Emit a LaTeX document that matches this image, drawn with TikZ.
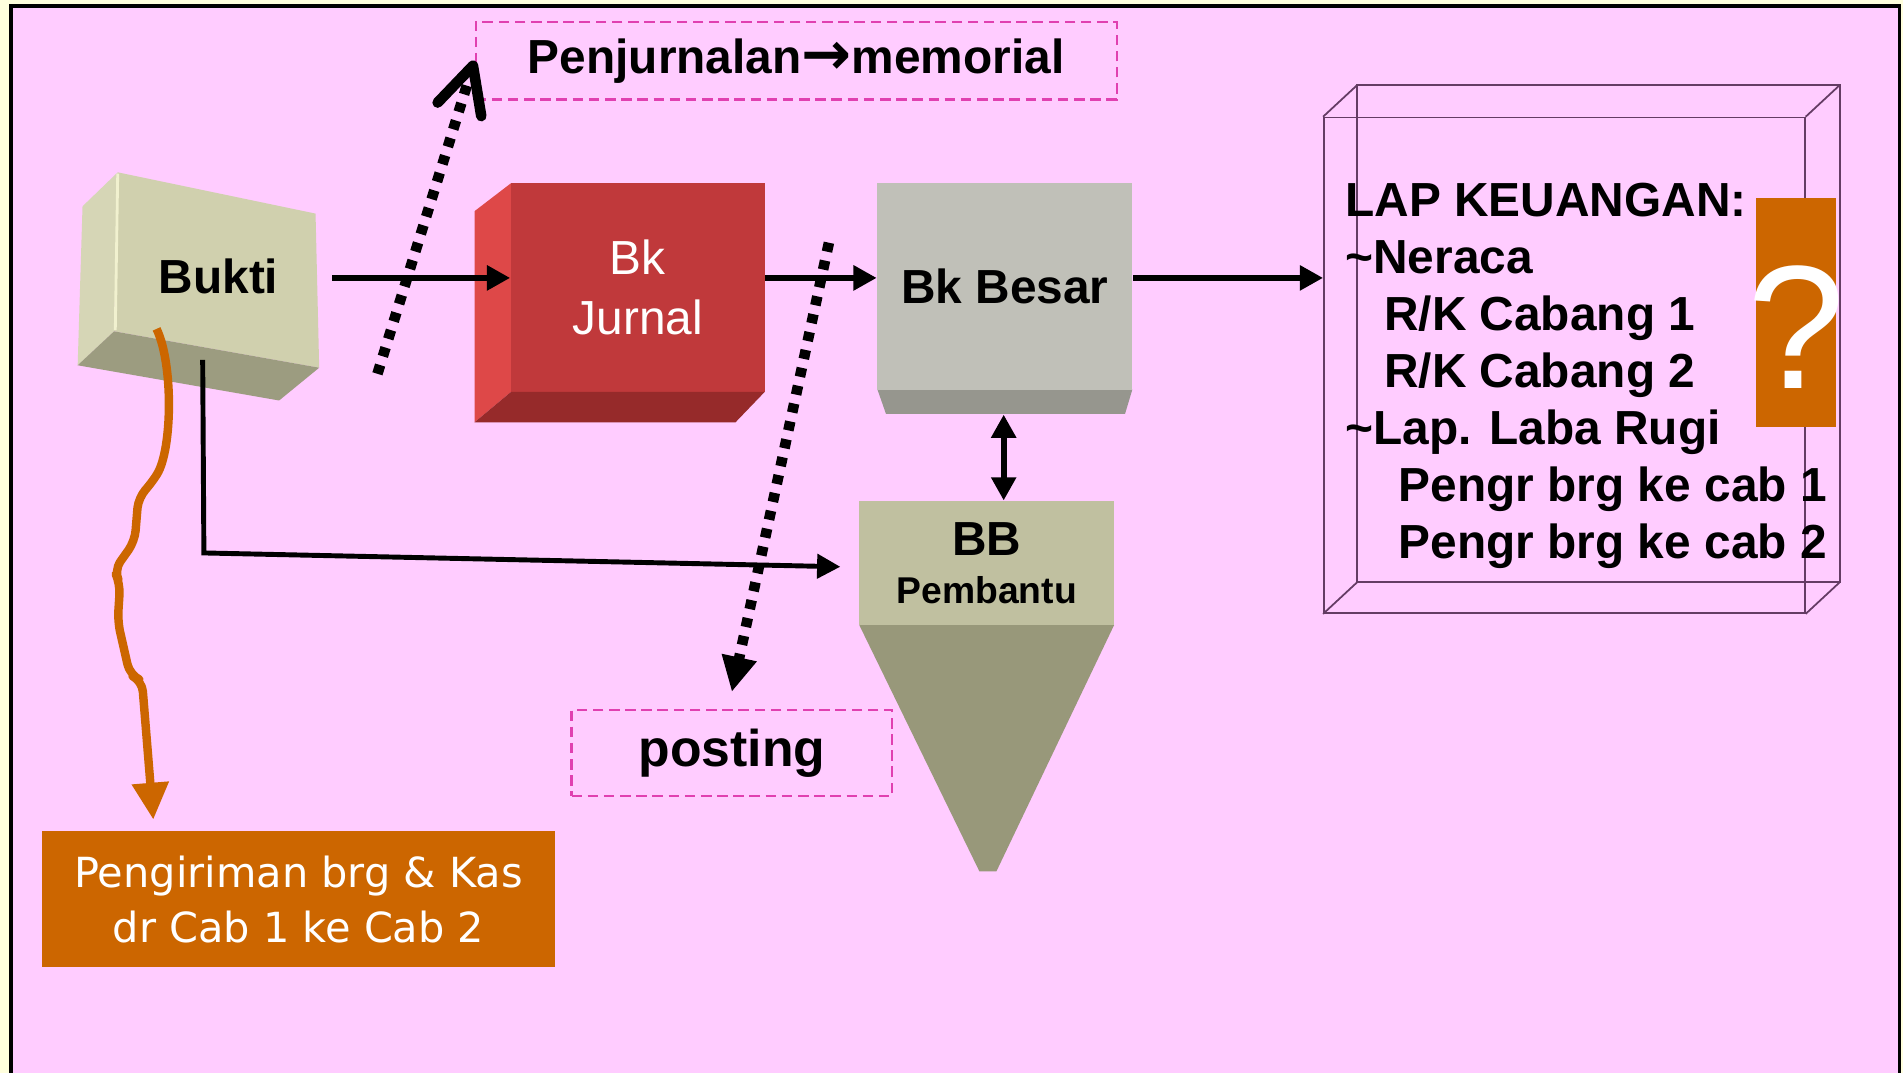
\documentclass[tikz,border=0pt]{standalone}
\usepackage{fontspec}
\setmainfont{Liberation Sans}
\newfontfamily\tipis{DejaVu Sans}
\usepackage{tikz}
\usetikzlibrary{positioning,arrows.meta,calc}
\definecolor{kuningmuda}{RGB}{255,255,221}
\definecolor{merahmuda}{RGB}{255,204,255}
\definecolor{oranye}{RGB}{204,102,0}
\definecolor{garisputus}{RGB}{224,64,176}
\definecolor{krem}{RGB}{208,208,174}
\definecolor{kremterang}{RGB}{214,214,182}
\definecolor{kremtua}{RGB}{156,156,128}
\definecolor{merahdepan}{RGB}{192,57,59}
\definecolor{merahsisi}{RGB}{222,72,72}
\definecolor{merahbawah}{RGB}{150,42,42}
\definecolor{abu}{RGB}{192,192,184}
\definecolor{abutua}{RGB}{150,150,142}
\definecolor{zaitun}{RGB}{192,192,160}
\definecolor{zaituntua}{RGB}{152,152,122}
\definecolor{ungu}{RGB}{100,60,100}
\newcommand{\ukuran}[2]{\fontsize{#1}{#2}\selectfont}
\newcommand{\panah}{{\tipis\bfseries\ukuran{17}{17}\raisebox{-0.5pt}{→}}}
\newdimen\satuan
\satuan=0.3453pt

\begin{document}
\begin{tikzpicture}[x=0.012136cm, y=-0.012136cm,
  judul/.style={font=\bfseries\ukuran{13.6}{16.2}},
  kotakputus/.style={draw=garisputus, line width=0.6pt, dash pattern=on 3pt off 1.6pt, inner sep=0pt},
  alir/.style={line width=1.8pt, -{Triangle[length=6.6pt,width=6.8pt]}},
  dua/.style={line width=1.8pt, {Triangle[length=6.6pt,width=6.8pt]}-{Triangle[length=6.6pt,width=6.8pt]}},
  hubung/.style={line width=1.4pt, -{Triangle[length=6.6pt,width=6.8pt]}},
  titik/.style={line width=3pt, dash pattern=on 2.6pt off 2.6pt},
  kubus/.style={ungu, line width=0.5pt}]
  \useasboundingbox (0,0) rectangle (1568,884);
  \fill[kuningmuda] (0,0) rectangle (1568,884);
  \draw[line width=1pt, fill=merahmuda] (9,5) rectangle (1565,910);

  \node[kotakputus, judul, minimum width=528*\satuan, minimum height=64*\satuan] (memo) at (656,50) {Penjurnalan\panah memorial};

  \fill[kremterang] (68,170) -- (97,142) -- (94,273) -- (64,301) -- cycle;
  \fill[krem] (97,142) -- (260,176) -- (263,303) -- (94,273) -- cycle;
  \fill[kremtua] (64,301) -- (94,273) -- (263,303) -- (230,330) -- cycle;
  \draw[kuningmuda!70!krem, line width=0.8pt] (97,143) -- (95,272);
  \node[judul, minimum width=186*\satuan, minimum height=136*\satuan] (bukti) at (180,228) {Bukti};

  \fill[merahsisi] (391,174) -- (421,151) -- (421,323) -- (391,348) -- cycle;
  \fill[merahdepan] (421,151) rectangle (630,323);
  \fill[merahbawah] (421,323) -- (630,323) -- (606,348) -- (391,348) -- cycle;
  \node[font=\ukuran{13.6}{17}, text=white, align=center, minimum width=209*\satuan, minimum height=172*\satuan] (jurnal) at (525.5,237) {Bk\\Jurnal};

  \fill[abutua] (723,321) -- (933,321) -- (927,341) -- (730,341) -- cycle;
  \fill[abu] (723,151) rectangle (933,321);
  \node[judul, minimum width=210*\satuan, minimum height=170*\satuan] (besar) at (828,236) {Bk Besar};

  \fill[zaituntua] (708,515) -- (918,515) -- (821,718) -- (807,718) -- cycle;
  \node[judul, fill=zaitun, align=center, minimum width=210*\satuan, minimum height=102*\satuan] (bb) at (813,464) {BB\\[-2.7pt]{\ukuran{10.6}{12}Pembantu}};

  \node[draw=ungu, line width=0.5pt, minimum width=396*\satuan, minimum height=408*\satuan] (lap) at (1289,301) {};
  \draw[kubus] ($(lap.north west)+(28,-26)$) rectangle ($(lap.south east)+(28,-26)$);
  \foreach \sudut in {north west, north east, south west, south east}
    \draw[kubus] (lap.\sudut) -- ++(28,-26);
  \foreach \geser/\baris [count=\i] in {0/{LAP KEUANGAN:}, 0/{\textasciitilde Neraca}, 32/{R/K Cabang 1}, 32/{R/K Cabang 2}, 0/{\textasciitilde Lap. Laba Rugi}, 44/{Pengr brg ke cab 1}, 44/{Pengr brg ke cab 2}}
    \node[judul, anchor=base west, inner sep=0pt] (lap\i) at ({1108+\geser},{131+47*\i}) {\baris};
  \node[fill=oranye, text=white, inner sep=0pt, minimum width=66*\satuan, minimum height=189*\satuan, font=\ukuran{50}{50}] (tanya) at (1480,257.5) {\raisebox{-21.6pt}[0pt][0pt]{\makebox[0pt]{?}}};

  \node[kotakputus, font=\bfseries\ukuran{14.7}{17}, minimum width=264*\satuan, minimum height=71*\satuan] (posting) at (603,620.5) {posting};
  \node[fill=oranye, text=white, font=\tipis\ukuran{11.8}{15.5}, align=center, minimum width=422*\satuan, minimum height=112*\satuan] (kirim) at (246,741) {Pengiriman brg \& Kas\\dr Cab 1 ke Cab 2};

  \coordinate (baris) at (0,229);
  \coordinate (awaljurnal) at (311,308);
  \coordinate (awalposting) at (683,200);
  \coordinate (awalkirim) at (129,271);
  \draw[alir] (bukti.east |- baris) -- (jurnal.west |- baris);
  \draw[alir] (jurnal.east |- baris) -- (besar.west |- baris);
  \draw[alir] (besar.east |- baris) -- (lap.west |- baris);
  \draw[dua] ($(besar.south)+(-1,20)$) -- ($(besar.south |- bb.north)+(-1,0)$);
  \draw[hubung] ($(bukti.south)+(-13,0)$) -- ++(1,159) -- ($(bb.west)+(-15,3)$);
  \draw[titik, -{Straight Barb[length=13pt,width=13pt,round]}] (awaljurnal) -- (memo.west);
  \draw[titik, -{Triangle[length=10pt,width=9.5pt]}] (awalposting) -- ($(posting.north)+(0,-14)$);
  \draw[oranye, line width=2.4pt, line join=round, rounded corners=3pt, -{Triangle[length=10.5pt,width=10pt]}] (awalkirim) .. controls (143,300) and (142,370) .. (125,398) -- (114,410) -- (111,446) -- (94,470) -- (99,481) -- (97,512) -- (107,556) -- (117,561) -- ($(kirim.north west)+(92,-9)$);
\end{tikzpicture}
\end{document}
